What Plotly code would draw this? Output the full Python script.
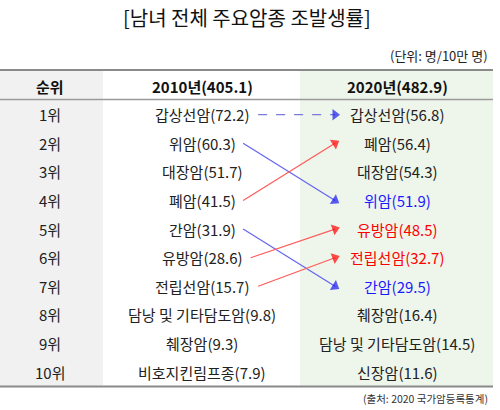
import plotly.graph_objects as go

# 2010 / 2020 top-10 cancers, crude incidence (per 100k)
ranks = list(range(1, 11))
names_2010 = ["갑상선암", "위암", "대장암", "폐암", "간암", "유방암", "전립선암",
              "담낭 및 기타담도암", "췌장암", "비호지킨림프종"]
rates_2010 = [72.2, 60.3, 51.7, 41.5, 31.9, 28.6, 15.7, 9.8, 9.3, 7.9]
names_2020 = ["갑상선암", "폐암", "대장암", "위암", "유방암", "전립선암", "간암",
              "췌장암", "담낭 및 기타담도암", "신장암"]
rates_2020 = [56.8, 56.4, 54.3, 51.9, 48.5, 32.7, 29.5, 16.4, 14.5, 11.6]
total_2010 = 405.1
total_2020 = 482.9
arrow_names = ["갑상선암", "위암", "폐암", "간암", "유방암", "전립선암"]
red_2020 = ["유방암", "전립선암"]
blue_2020 = ["위암", "간암"]

FONT = "Noto Sans CJK KR"
FS = 15
X_RANK, X_2010, X_2020 = 50, 202, 397
ARROW_END = 335


def text_width(s, size):
    w = 0
    for ch in s:
        if "\uac00" <= ch <= "\ud7a3":
            w += size
        elif ch.isdigit():
            w += 0.55 * size
        elif ch in "(). ":
            w += 0.30 * size
        else:
            w += 0.5 * size
    return w


def to_y(px):
    # pixel row -> rank coordinate
    return (px - 114.7) / 28.6 + 1


fig = go.Figure()

# column backgrounds
fig.add_shape(type="rect", x0=0, x1=103, y0=to_y(70), y1=10.5,
              fillcolor="#f1f1f1", line_width=0, layer="below")
fig.add_shape(type="rect", x0=300, x1=493, y0=to_y(70), y1=10.5,
              fillcolor="#eef5ea", line_width=0, layer="below")
# table rules
fig.add_shape(type="line", x0=0, x1=493, y0=to_y(70), y1=to_y(70),
              line=dict(color="#8a8a8a", width=2))
fig.add_shape(type="line", x0=0, x1=493, y0=0.47, y1=0.47,
              line=dict(color="#9a9a9a", width=1.5))
fig.add_shape(type="line", x0=0, x1=493, y0=10.5, y1=10.5,
              line=dict(color="#8a8a8a", width=2))

# arrows
for n in arrow_names:
    r0 = names_2010.index(n) + 1
    r1 = names_2020.index(n) + 1
    label = f"{n}({rates_2010[r0 - 1]})"
    x0 = X_2010 + text_width(label, FS) / 2 + 7
    if r1 < r0:
        lc, hc, dash = "#ff5a5a", "#ff0000", "solid"
    elif r1 > r0:
        lc, hc, dash = "#6464f0", "#1414ee", "solid"
    else:
        lc, hc, dash = "#7a7ad8", "#1a1aee", "dash"
    fig.add_trace(go.Scatter(
        x=[x0, ARROW_END], y=[r0, r1], mode="lines+markers",
        line=dict(color=lc, width=1.2, dash=dash),
        marker=dict(symbol="triangle-up", size=[0, 10], color=hc,
                    angleref="previous", line_width=0),
        hoverinfo="skip", showlegend=False))

ann = []
hdr = dict(family=FONT, size=FS, color="#111")
ann.append(dict(x=X_RANK, y=0, text="<b>순위</b>", font=hdr))
ann.append(dict(x=X_2010, y=0, text=f"<b>2010년({total_2010})</b>", font=hdr))
ann.append(dict(x=X_2020, y=0, text=f"<b>2020년({total_2020})</b>", font=hdr))

for i, r in enumerate(ranks):
    ann.append(dict(x=X_RANK, y=r, text=f"{r}위",
                    font=dict(family=FONT, size=FS, color="#222")))
    ann.append(dict(x=X_2010, y=r, text=f"{names_2010[i]}({rates_2010[i]})",
                    font=dict(family=FONT, size=FS, color="#222")))
    n = names_2020[i]
    c = "#ff0000" if n in red_2020 else ("#1a1aff" if n in blue_2020 else "#222")
    ann.append(dict(x=X_2020, y=r, text=f"{n}({rates_2020[i]})",
                    font=dict(family=FONT, size=FS, color=c)))

for a in ann:
    a.update(xref="x", yref="y", showarrow=False, xanchor="center", yanchor="middle")

ann.append(dict(x=247, y=1 - 17 / 410, xref="x", yref="paper", showarrow=False,
                text="[남녀 전체 주요암종 조발생률]", xanchor="center", yanchor="middle",
                font=dict(family=FONT, size=20, color="#111")))
ann.append(dict(x=490, y=1 - 55 / 410, xref="x", yref="paper", showarrow=False,
                text="(단위: 명/10만 명)", xanchor="right", yanchor="middle",
                font=dict(family=FONT, size=13, color="#222")))
ann.append(dict(x=490, y=1 - 398 / 410, xref="x", yref="paper", showarrow=False,
                text="(출처: 2020 국가암등록통계)", xanchor="right", yanchor="middle",
                font=dict(family=FONT, size=10.5, color="#333")))

fig.update_layout(
    width=500, height=410,
    margin=dict(l=0, r=0, t=0, b=0),
    paper_bgcolor="white", plot_bgcolor="white",
    annotations=ann,
    xaxis=dict(range=[0, 500], visible=False, fixedrange=True),
    yaxis=dict(range=[to_y(410), to_y(0)], visible=False, fixedrange=True),
    showlegend=False,
)

fig.write_html("out.html", config={"displayModeBar": False},
               post_script="document.body.style.margin='0';")
